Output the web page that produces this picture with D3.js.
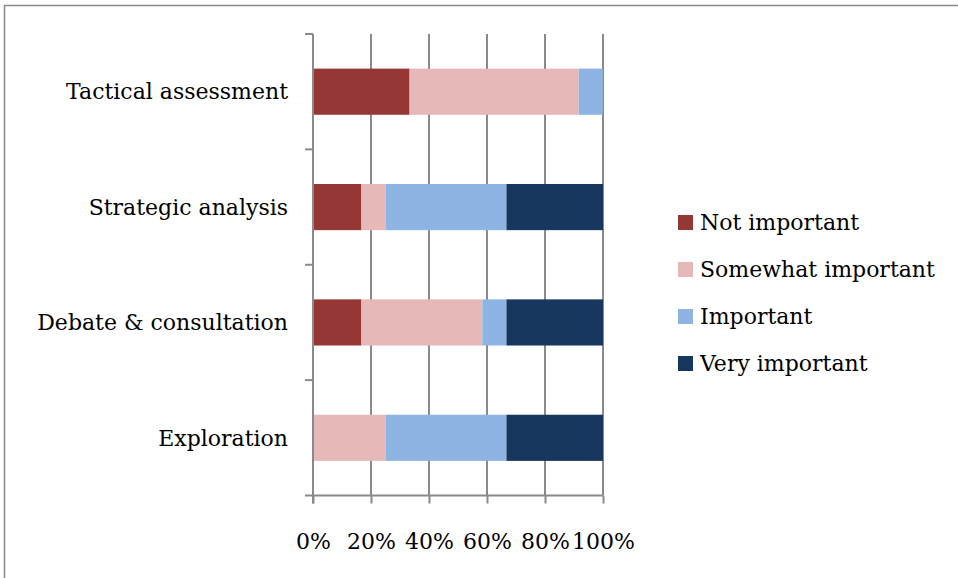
<!DOCTYPE html>
<html>
<head>
	<meta charset="utf-8">
	<title>Stacked bar</title>
	<script src="https://d3js.org/d3.v7.min.js"></script>
	<style>
		body { margin: 0; background: #fff; }
		text { font-family: 'DejaVu Serif', serif; fill: #000; }
	</style>
</head>
<body>
	<div class="chart"></div>

	<script type="text/javascript">
		// categories, top to bottom
		var categories = ['Tactical assessment', 'Strategic analysis', 'Debate & consultation', 'Exploration']
		var seriesNames = ['Not important', 'Somewhat important', 'Important', 'Very important']
		var colors = ['#953735', '#e6b9b8', '#8eb4e3', '#17375e']

		// share of answers (%) per category, same order as categories
		var notImportant = [33.3, 16.7, 16.7, 0]
		var somewhatImportant = [58.3, 8.3, 41.7, 25]
		var important = [8.3, 41.7, 8.3, 41.7]
		var veryImportant = [0, 33.3, 33.3, 33.3]

		var tickValues = [0, 20, 40, 60, 80, 100]

		var width = 958
		var height = 578
		var fontSize = 22
		var gridColor = '#8a8a8a'

		var svg = d3.select('.chart')
			.append('svg')
			.attr('width', width)
			.attr('height', height)

		// outer frame (only left and top visible)
		svg.append('path')
			.attr('d', 'M4.5,' + height + 'V5.5H' + width)
			.attr('fill', 'none')
			.attr('stroke', gridColor)
			.attr('stroke-width', 1.5)

		var plotLeft = 313, plotRight = 603, plotTop = 34, plotBottom = 495.5

		var rows = categories.map(function(c, i) {
			return {
				category: c,
				'Not important': notImportant[i],
				'Somewhat important': somewhatImportant[i],
				'Important': important[i],
				'Very important': veryImportant[i]
			}
		})

		var stack = d3.stack().keys(seriesNames)(rows)

		var x = d3.scaleLinear().domain([0, 100]).range([plotLeft, plotRight])
		var y = d3.scaleBand().domain(categories).range([plotTop, plotBottom]).paddingInner(0.6).paddingOuter(0.3)

		var color = d3.scaleOrdinal().domain(seriesNames).range(colors)

		// vertical gridlines
		svg.append('g')
			.selectAll('line')
			.data(tickValues.slice(1))
			.enter()
			.append('line')
			.attr('x1', function(d) { return x(d) })
			.attr('x2', function(d) { return x(d) })
			.attr('y1', plotTop)
			.attr('y2', plotBottom)
			.attr('stroke', gridColor)
			.attr('stroke-width', 2)

		// bars
		svg.append('g')
			.selectAll('g')
			.data(stack)
			.enter()
			.append('g')
			.attr('fill', function(d) { return color(d.key) })
			.selectAll('rect')
			.data(function(d) { return d })
			.enter()
			.append('rect')
			.attr('x', function(d) { return x(d[0]) })
			.attr('width', function(d) { return x(d[1]) - x(d[0]) })
			.attr('y', function(d) { return y(d.data.category) })
			.attr('height', y.bandwidth())

		// x axis
		var xAxis = svg.append('g')
			.attr('transform', 'translate(0,' + plotBottom + ')')
			.call(d3.axisBottom(x).tickValues(tickValues).tickSize(8).tickPadding(30).tickFormat(function(d) { return d + '%' }))
		xAxis.select('.domain').remove()
		xAxis.append('line')
			.attr('x1', plotLeft - 8).attr('x2', plotRight)
			.attr('stroke', gridColor).attr('stroke-width', 2)
		xAxis.selectAll('.tick line').attr('stroke', gridColor).attr('stroke-width', 2)
		xAxis.selectAll('.tick text')
			.attr('font-family', 'DejaVu Serif')
			.attr('font-size', fontSize)
			.attr('fill', '#000')

		// y axis line and ticks between categories
		svg.append('line')
			.attr('x1', plotLeft).attr('x2', plotLeft)
			.attr('y1', plotTop).attr('y2', plotBottom + 8)
			.attr('stroke', gridColor).attr('stroke-width', 2)
		svg.append('g')
			.selectAll('line')
			.data(categories)
			.enter()
			.append('line')
			.attr('x1', plotLeft - 8)
			.attr('x2', plotLeft)
			.attr('y1', function(d) { return y(d) - y.step() * y.paddingOuter() })
			.attr('y2', function(d) { return y(d) - y.step() * y.paddingOuter() })
			.attr('stroke', gridColor).attr('stroke-width', 2)

		// category labels
		svg.append('g')
			.selectAll('text')
			.data(categories)
			.enter()
			.append('text')
			.attr('x', 288)
			.attr('y', function(d) { return y(d) + y.bandwidth() / 2 })
			.attr('dy', '0.35em')
			.attr('text-anchor', 'end')
			.attr('font-size', fontSize)
			.text(function(d) { return d })

		// legend
		var legend = svg.append('g')
			.attr('transform', 'translate(678,215)')
			.selectAll('g')
			.data(seriesNames)
			.enter()
			.append('g')
			.attr('transform', function(d, i) { return 'translate(0,' + i * 47 + ')' })

		legend.append('rect')
			.attr('width', 15)
			.attr('height', 15)
			.attr('fill', function(d) { return color(d) })

		legend.append('text')
			.attr('x', 22)
			.attr('y', 7.5)
			.attr('dy', '0.35em')
			.attr('font-size', fontSize)
			.text(function(d) { return d })
	</script>
</body>
</html>
